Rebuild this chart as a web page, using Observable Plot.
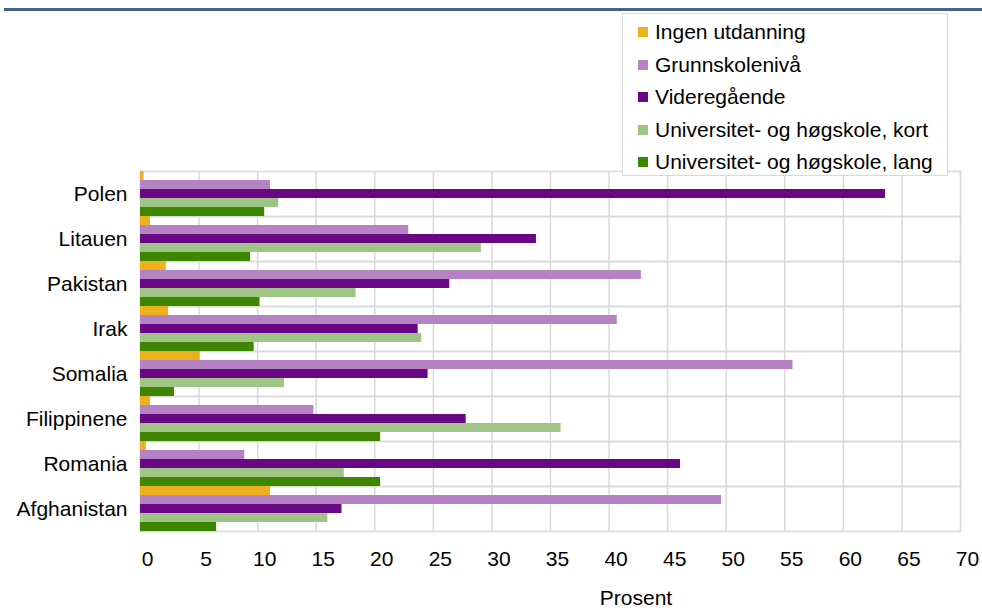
<!DOCTYPE html>
<html><head><meta charset="utf-8">
<script src="https://cdn.jsdelivr.net/npm/d3@7"></script>
<script src="https://cdn.jsdelivr.net/npm/@observablehq/plot@0.6"></script>
<style>
body{margin:0;background:#fff;font-family:"Liberation Sans",Arial,sans-serif;}
#wrap{position:relative;width:982px;height:611px;overflow:hidden;}
#rule{position:absolute;left:4px;right:0;top:8px;height:3px;background:#46608f;}
#legend{position:absolute;left:622px;top:13px;width:326px;height:163px;border:1.5px solid #d9d9d9;background:#fff;box-sizing:border-box;}
.item{position:absolute;left:15px;height:24px;font-size:21px;line-height:24px;color:#000;white-space:nowrap;}
.sw{display:inline-block;width:10px;height:10px;margin-right:7px;vertical-align:2px;}
#xlabel{position:absolute;top:589px;left:636px;transform:translateX(-50%);font-size:21px;line-height:17px;color:#000;}
</style></head>
<body>
<div id="wrap">
<div id="chart"></div>
<div id="rule"></div>
<div id="legend"></div>
<div id="xlabel"></div>
</div>
<script>
const countries = ["Polen","Litauen","Pakistan","Irak","Somalia","Filippinene","Romania","Afghanistan"];
const series = ["Ingen utdanning","Grunnskolenivå","Videregående","Universitet- og høgskole, kort","Universitet- og høgskole, lang"];
const colors = ["#edb120","#b583c4","#690785","#9ec586","#3f8600"];
const ingen = [0.3, 0.85, 2.2, 2.4, 5.1, 0.85, 0.5, 11.1];
const grunn = [11.1, 22.9, 42.75, 40.7, 55.7, 14.8, 8.9, 49.6];
const vgs   = [63.6, 33.8, 26.4, 23.7, 24.55, 27.8, 46.1, 17.2];
const kort  = [11.8, 29.1, 18.4, 24.0, 12.3, 35.9, 17.4, 16.0];
const lang  = [10.6, 9.4, 10.2, 9.7, 2.9, 20.5, 20.5, 6.5];
const xTicks = [0,5,10,15,20,25,30,35,40,45,50,55,60,65,70];
const xLabel = "Prosent";

const seriesValues = [ingen, grunn, vgs, kort, lang];
const rows = [];
countries.forEach((c, i) => series.forEach((s, j) => rows.push({country: c, series: s, value: seriesValues[j][i]})));

const chart = Plot.plot({
  width: 982, height: 611,
  marginTop: 170, marginBottom: 79, marginLeft: 140, marginRight: 22,
  style: {fontFamily: "Liberation Sans, Arial, sans-serif", fontSize: "21px", color: "#000", background: "transparent"},
  x: {domain: [0, 70], label: null},
  fy: {domain: countries, padding: 0, label: null},
  y: {domain: series, padding: 0, axis: null},
  color: {domain: series, range: colors},
  marks: [
    Plot.gridX(xTicks, {stroke: "#d9d9d9", strokeOpacity: 1, strokeWidth: 1.5}),
    Plot.frame({stroke: "#d9d9d9", strokeWidth: 1.5}),
    Plot.barX(rows, {x: "value", y: "series", fy: "country", fill: "series"}),
    Plot.axisX(xTicks, {tickSize: 0, tickPadding: 20, dx: 7, fontSize: 21, label: null, tickFormat: d => String(d)}),
    Plot.axisFy({anchor: "left", tickSize: 0, tickPadding: 13, fontSize: 21, label: null})
  ]
});
document.getElementById("chart").appendChild(chart);
document.getElementById("xlabel").textContent = xLabel;

const legend = document.getElementById("legend");
series.forEach((s, j) => {
  const d = document.createElement("div");
  d.className = "item";
  d.style.top = (6 + j * 32.6) + "px";
  const sw = document.createElement("span");
  sw.className = "sw";
  sw.style.background = colors[j];
  d.appendChild(sw);
  d.appendChild(document.createTextNode(s));
  legend.appendChild(d);
});
</script>
</body></html>
